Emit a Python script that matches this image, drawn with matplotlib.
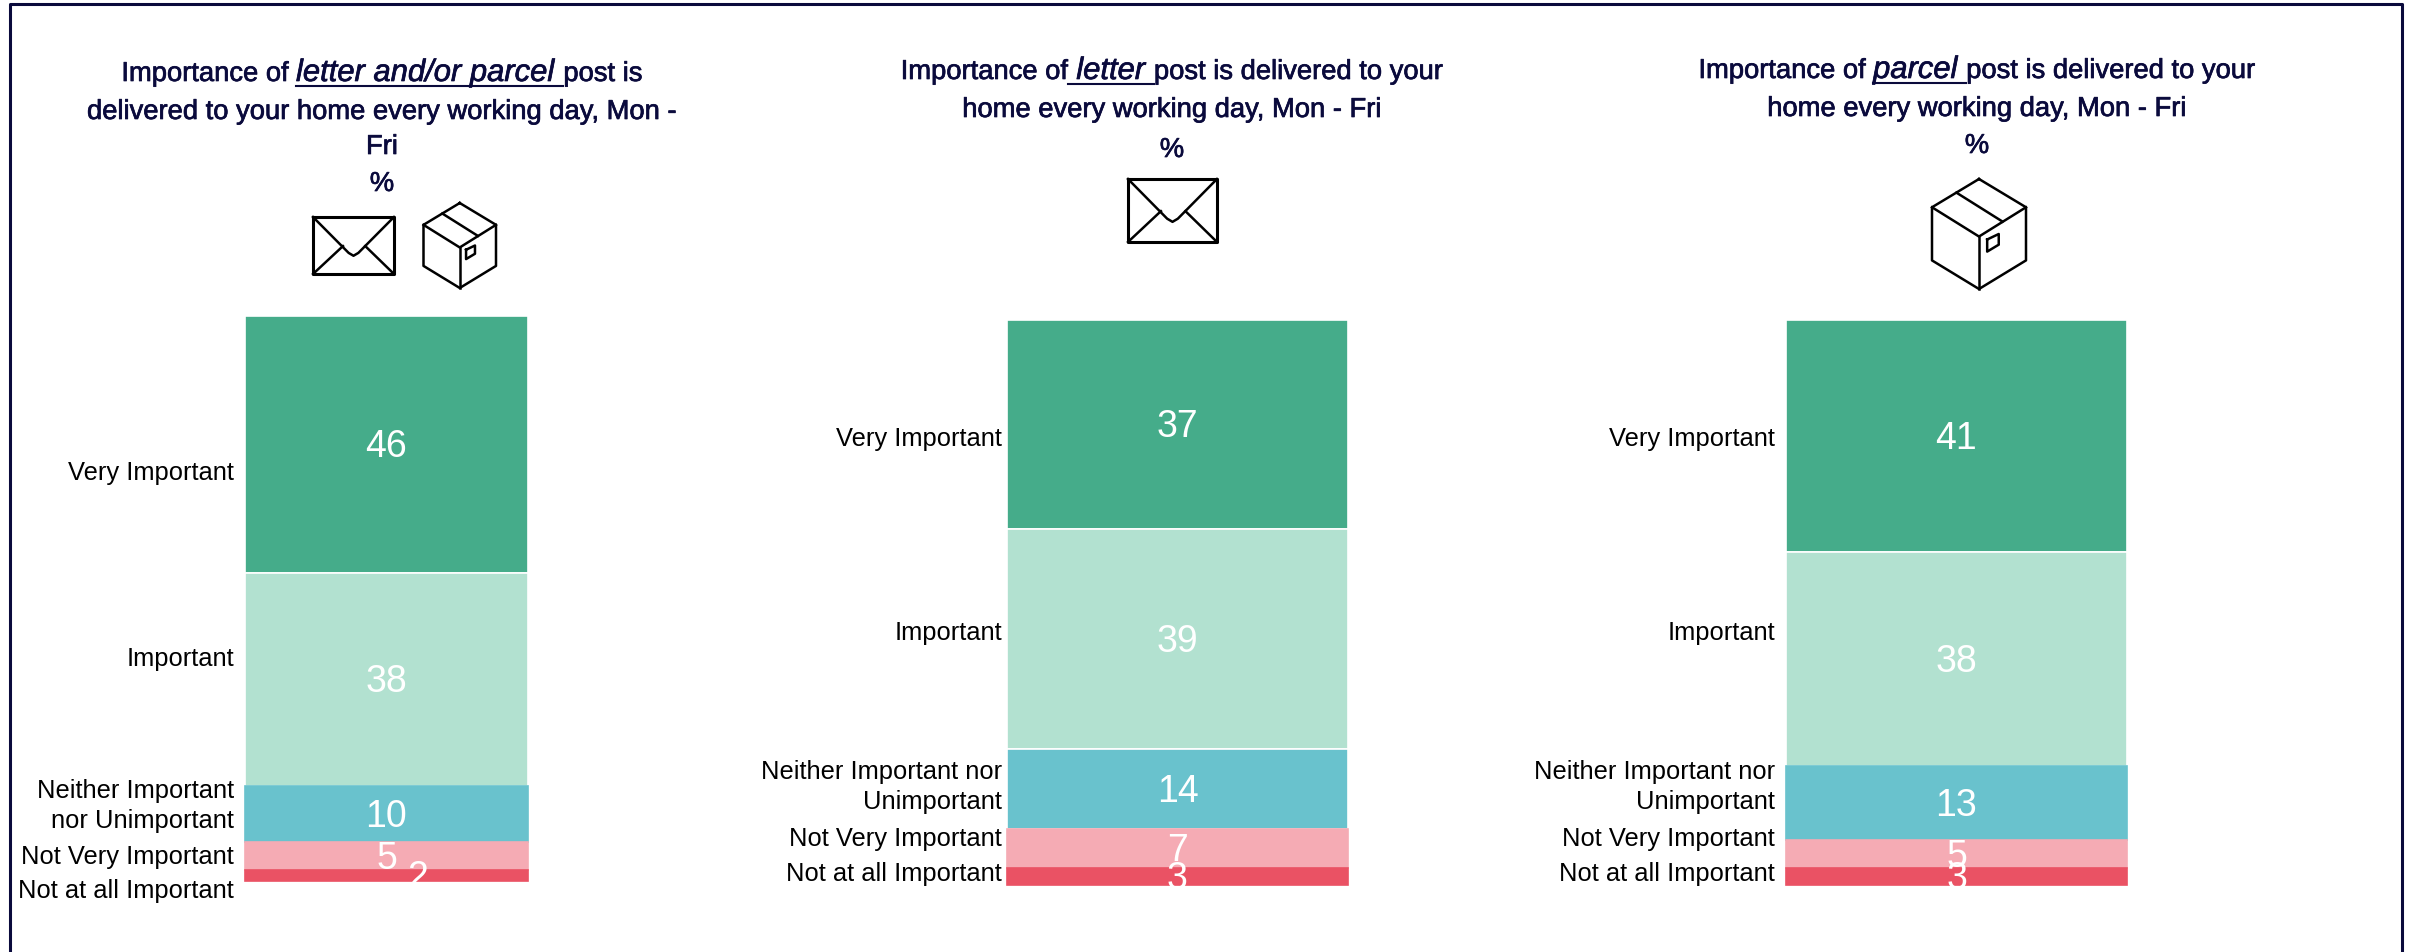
"""Stacked importance bars for letter and parcel delivery, three panels."""
import matplotlib
matplotlib.use('Agg')
import matplotlib.pyplot as plt
import matplotlib.patheffects as pe

W, H = 2412, 952
plt.rcParams['font.family'] = ['Liberation Sans', 'DejaVu Sans']

NAVY = '#0a0a3c'
COLORS = ['#45ac8a', '#b2e1d0', '#69c2cd', '#f5abb4', '#ea5264']

# data
all_post = [46, 38, 10, 5, 2]
letter_post = [37, 39, 14, 7, 3]
parcel_post = [41, 38, 13, 5, 3]

labels_first = ['Very Important', 'Important', 'Neither Important\nnor Unimportant',
                'Not Very Important', 'Not at all Important']
labels_other = ['Very Important', 'Important', 'Neither Important nor\nUnimportant',
                'Not Very Important', 'Not at all Important']

titles = [
    [[('Importance of ', 0, 0), ('letter and/or parcel ', 1, 1), ('post is', 0, 0)],
     [('delivered to your home every working day, Mon -', 0, 0)],
     [('Fri', 0, 0)],
     [('%', 0, 0)]],
    [[('Importance of', 0, 0), (' letter ', 1, 1), ('post is delivered to your', 0, 0)],
     [('home every working day, Mon - Fri', 0, 0)],
     [('%', 0, 0)]],
    [[('Importance of ', 0, 0), ('parcel ', 1, 1), ('post is delivered to your', 0, 0)],
     [('home every working day, Mon - Fri', 0, 0)],
     [('%', 0, 0)]],
]

# layout, in reference pixels
bar_boxes = [(245, 528, 316, 881), (1007, 1348, 320, 885), (1786, 2127, 320, 885)]
label_right = [234, 1002, 1775]
label_ys = [[473, 659, 806, 857, 891], [439, 633, 787, 839, 874], [439, 633, 787, 839, 874]]
title_cx = [382, 1172, 1977]
title_baselines = [[81, 119, 154, 191], [79, 117, 157], [78, 116, 153]]
edged = [2, 3, 2]

TITLE_SIZE = 19.7
ITALIC_SIZE = 22.3
LABEL_SIZE = 18.4
VALUE_SIZE = 27

fig = plt.figure(figsize=(W / 100, H / 100), dpi=100, facecolor='white')
over = fig.add_axes([0, 0, 1, 1], zorder=5)
over.set_xlim(0, W)
over.set_ylim(H, 0)
over.axis('off')
renderer = fig.canvas.get_renderer()
heavier = [pe.withStroke(linewidth=0.5, foreground=NAVY)]


def text_width(s, **kw):
    # bars either side so that edge spaces count
    t1 = over.text(0, 0, '|' + s + '|', **kw)
    t2 = over.text(0, 0, '||', **kw)
    w = t1.get_window_extent(renderer).width - t2.get_window_extent(renderer).width
    t1.remove()
    t2.remove()
    return w


def run_style(italic):
    if italic:
        return {'fontsize': ITALIC_SIZE, 'style': 'italic'}
    return {'fontsize': TITLE_SIZE, 'style': 'normal'}


def draw_title(lines, cx, baselines):
    for runs, y in zip(lines, baselines):
        widths = [text_width(s, **run_style(it)) for s, it, _ in runs]
        x = cx - sum(widths) / 2
        for (s, it, ul), w in zip(runs, widths):
            over.text(x, y, s, color=NAVY, ha='left', va='baseline',
                      path_effects=heavier, **run_style(it))
            if ul:
                over.plot([x, x + w], [y + 5, y + 5], color=NAVY, lw=1.5)
            x += w


def poly(points, x0, x1, y0, y1, lw=1.8):
    xs = [x0 + u * (x1 - x0) for u, _ in points]
    ys = [y0 + v * (y1 - y0) for _, v in points]
    over.plot(xs, ys, color='black', lw=lw, solid_joinstyle='round')


def envelope(x0, x1, y0, y1):
    poly([(0, 0), (1, 0), (1, 1), (0, 1), (0, 0)], x0, x1, y0, y1, lw=2.2)
    poly([(0, 0), (.44, .63), (.5, .68), (.56, .63), (1, 0)], x0, x1, y0, y1)
    poly([(0, 1), (.37, .51)], x0, x1, y0, y1)
    poly([(1, 1), (.645, .51)], x0, x1, y0, y1)


def box(x0, x1, y0, y1):
    poly([(.5, 0), (1, .257), (1, .74), (.5, 1), (0, .74), (0, .257), (.5, 0)], x0, x1, y0, y1)
    poly([(0, .257), (.5, .523), (1, .257)], x0, x1, y0, y1)
    poly([(.5, .523), (.5, 1)], x0, x1, y0, y1)
    poly([(.26, .124), (.75, .387)], x0, x1, y0, y1)
    poly([(.587, .55), (.71, .50), (.71, .597), (.587, .66), (.587, .55)], x0, x1, y0, y1)


series = [all_post, letter_post, parcel_post]
cat_labels = [labels_first, labels_other, labels_other]

for i, values in enumerate(series):
    x0, x1, y0, y1 = bar_boxes[i]
    ax = fig.add_axes([x0 / W, 1 - y1 / H, (x1 - x0) / W, (y1 - y0) / H])
    ax.set_xlim(-0.5, 0.5)
    ax.set_ylim(sum(values), 0)
    ax.axis('off')
    bottom = 0
    for j, v in enumerate(values):
        ec = 'white' if j < edged[i] else COLORS[j]
        ax.bar(0, v, width=1, bottom=bottom, color=COLORS[j], edgecolor=ec, linewidth=1.2,
               clip_on=False)
        # the 2 sits off-centre in the first panel
        dx = 0.11 if v == 2 else 0
        ax.annotate(str(v), (dx, bottom + v / 2), xytext=(0, -2), textcoords='offset points',
                    color='white', fontsize=VALUE_SIZE, ha='center', va='center',
                    annotation_clip=False)
        bottom += v
    for lab, y in zip(cat_labels[i], label_ys[i]):
        over.text(label_right[i], y, lab, fontsize=LABEL_SIZE, color='black', ha='right',
                  va='center', linespacing=1.35)
    draw_title(titles[i], title_cx[i], title_baselines[i])

envelope(313, 394, 217, 274)
box(423.5, 496, 203, 288)
envelope(1128, 1217, 179, 242)
box(1932, 2026, 179, 289)

# frame open at the bottom
over.plot([9.5, 9.5, 2402, 2402], [H, 3.5, 3.5, H], color=NAVY, lw=2.2)

fig.savefig('out.png', dpi=100)
